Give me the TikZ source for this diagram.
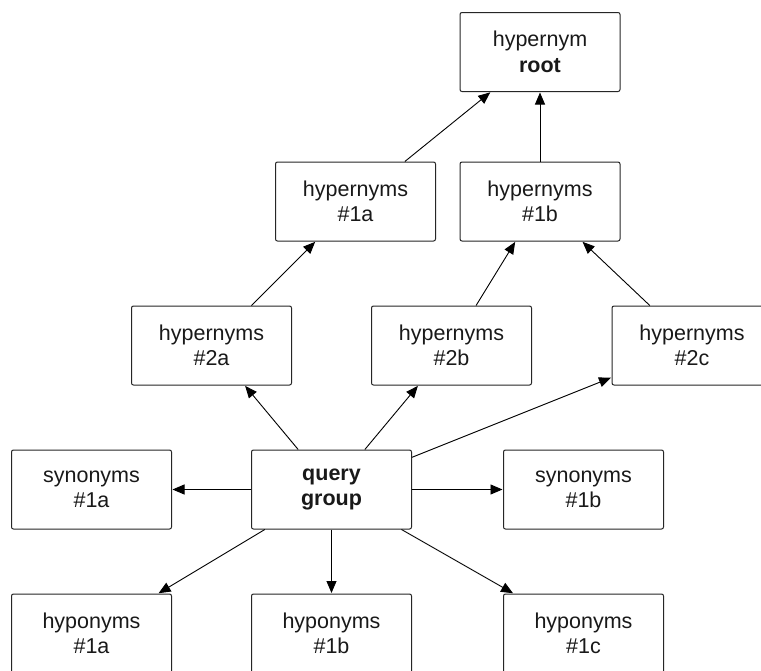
\documentclass[tikz,border=0pt]{standalone}
\usepackage{fontspec}
\setmainfont{Liberation Sans}
\usetikzlibrary{arrows.meta}
\begin{document}
\begin{tikzpicture}[x=1pt,y=-1pt,
  box/.style={draw=black!85, line width=1pt, rounded corners=2pt,
    minimum width=160pt, minimum height=79pt, inner sep=0pt,
    align=center, font=\fontsize{21.5}{25.5}\selectfont, text=black!90},
  link/.style={line width=0.9pt, draw=black,
    -{Triangle[length=12pt,width=10pt]}, shorten >=0.5pt}]
\clip (0,0) rectangle (761,670);
\fill[white] (0,0) rectangle (761,670);

% hypernym chain
\node[box] (root) at (540,52)    {hypernym\\\textbf{root}};
\node[box] (h1a)  at (355.5,201.5) {hypernyms\\\#1a};
\node[box] (h1b)  at (540,201.5)   {hypernyms\\\#1b};
\node[box] (h2a)  at (211.5,345.5) {hypernyms\\\#2a};
\node[box] (h2b)  at (451.5,345.5) {hypernyms\\\#2b};
\node[box] (h2c)  at (692,345.5)   {hypernyms\\\#2c};

% query row
\node[box] (s1a)  at (91.5,489.5)  {synonyms\\\#1a};
\node[box] (qg)   at (331.5,489.5) {\textbf{query}\\\textbf{group}};
\node[box] (s1b)  at (583.5,489.5) {synonyms\\\#1b};

% hyponyms
\node[box] (o1a)  at (91.5,633.5)  {hyponyms\\\#1a};
\node[box] (o1b)  at (331.5,633.5) {hyponyms\\\#1b};
\node[box] (o1c)  at (583.5,633.5) {hyponyms\\\#1c};

% connectors
\draw[link] (h1a) -- (root);
\draw[link] (h1b) -- (root);
\draw[link] (h2a) -- (h1a);
\draw[link] (h2b) -- (h1b);
\draw[link] (h2c) -- (h1b);
\draw[link] (qg) -- (h2a);
\draw[link] (qg) -- (h2b);
\draw[link] (qg) -- (h2c);
\draw[link] (qg) -- (s1a);
\draw[link] (qg) -- (s1b);
\draw[link] (qg) -- (o1a);
\draw[link] (qg) -- (o1b);
\draw[link] (qg) -- (o1c);
\end{tikzpicture}
\end{document}
